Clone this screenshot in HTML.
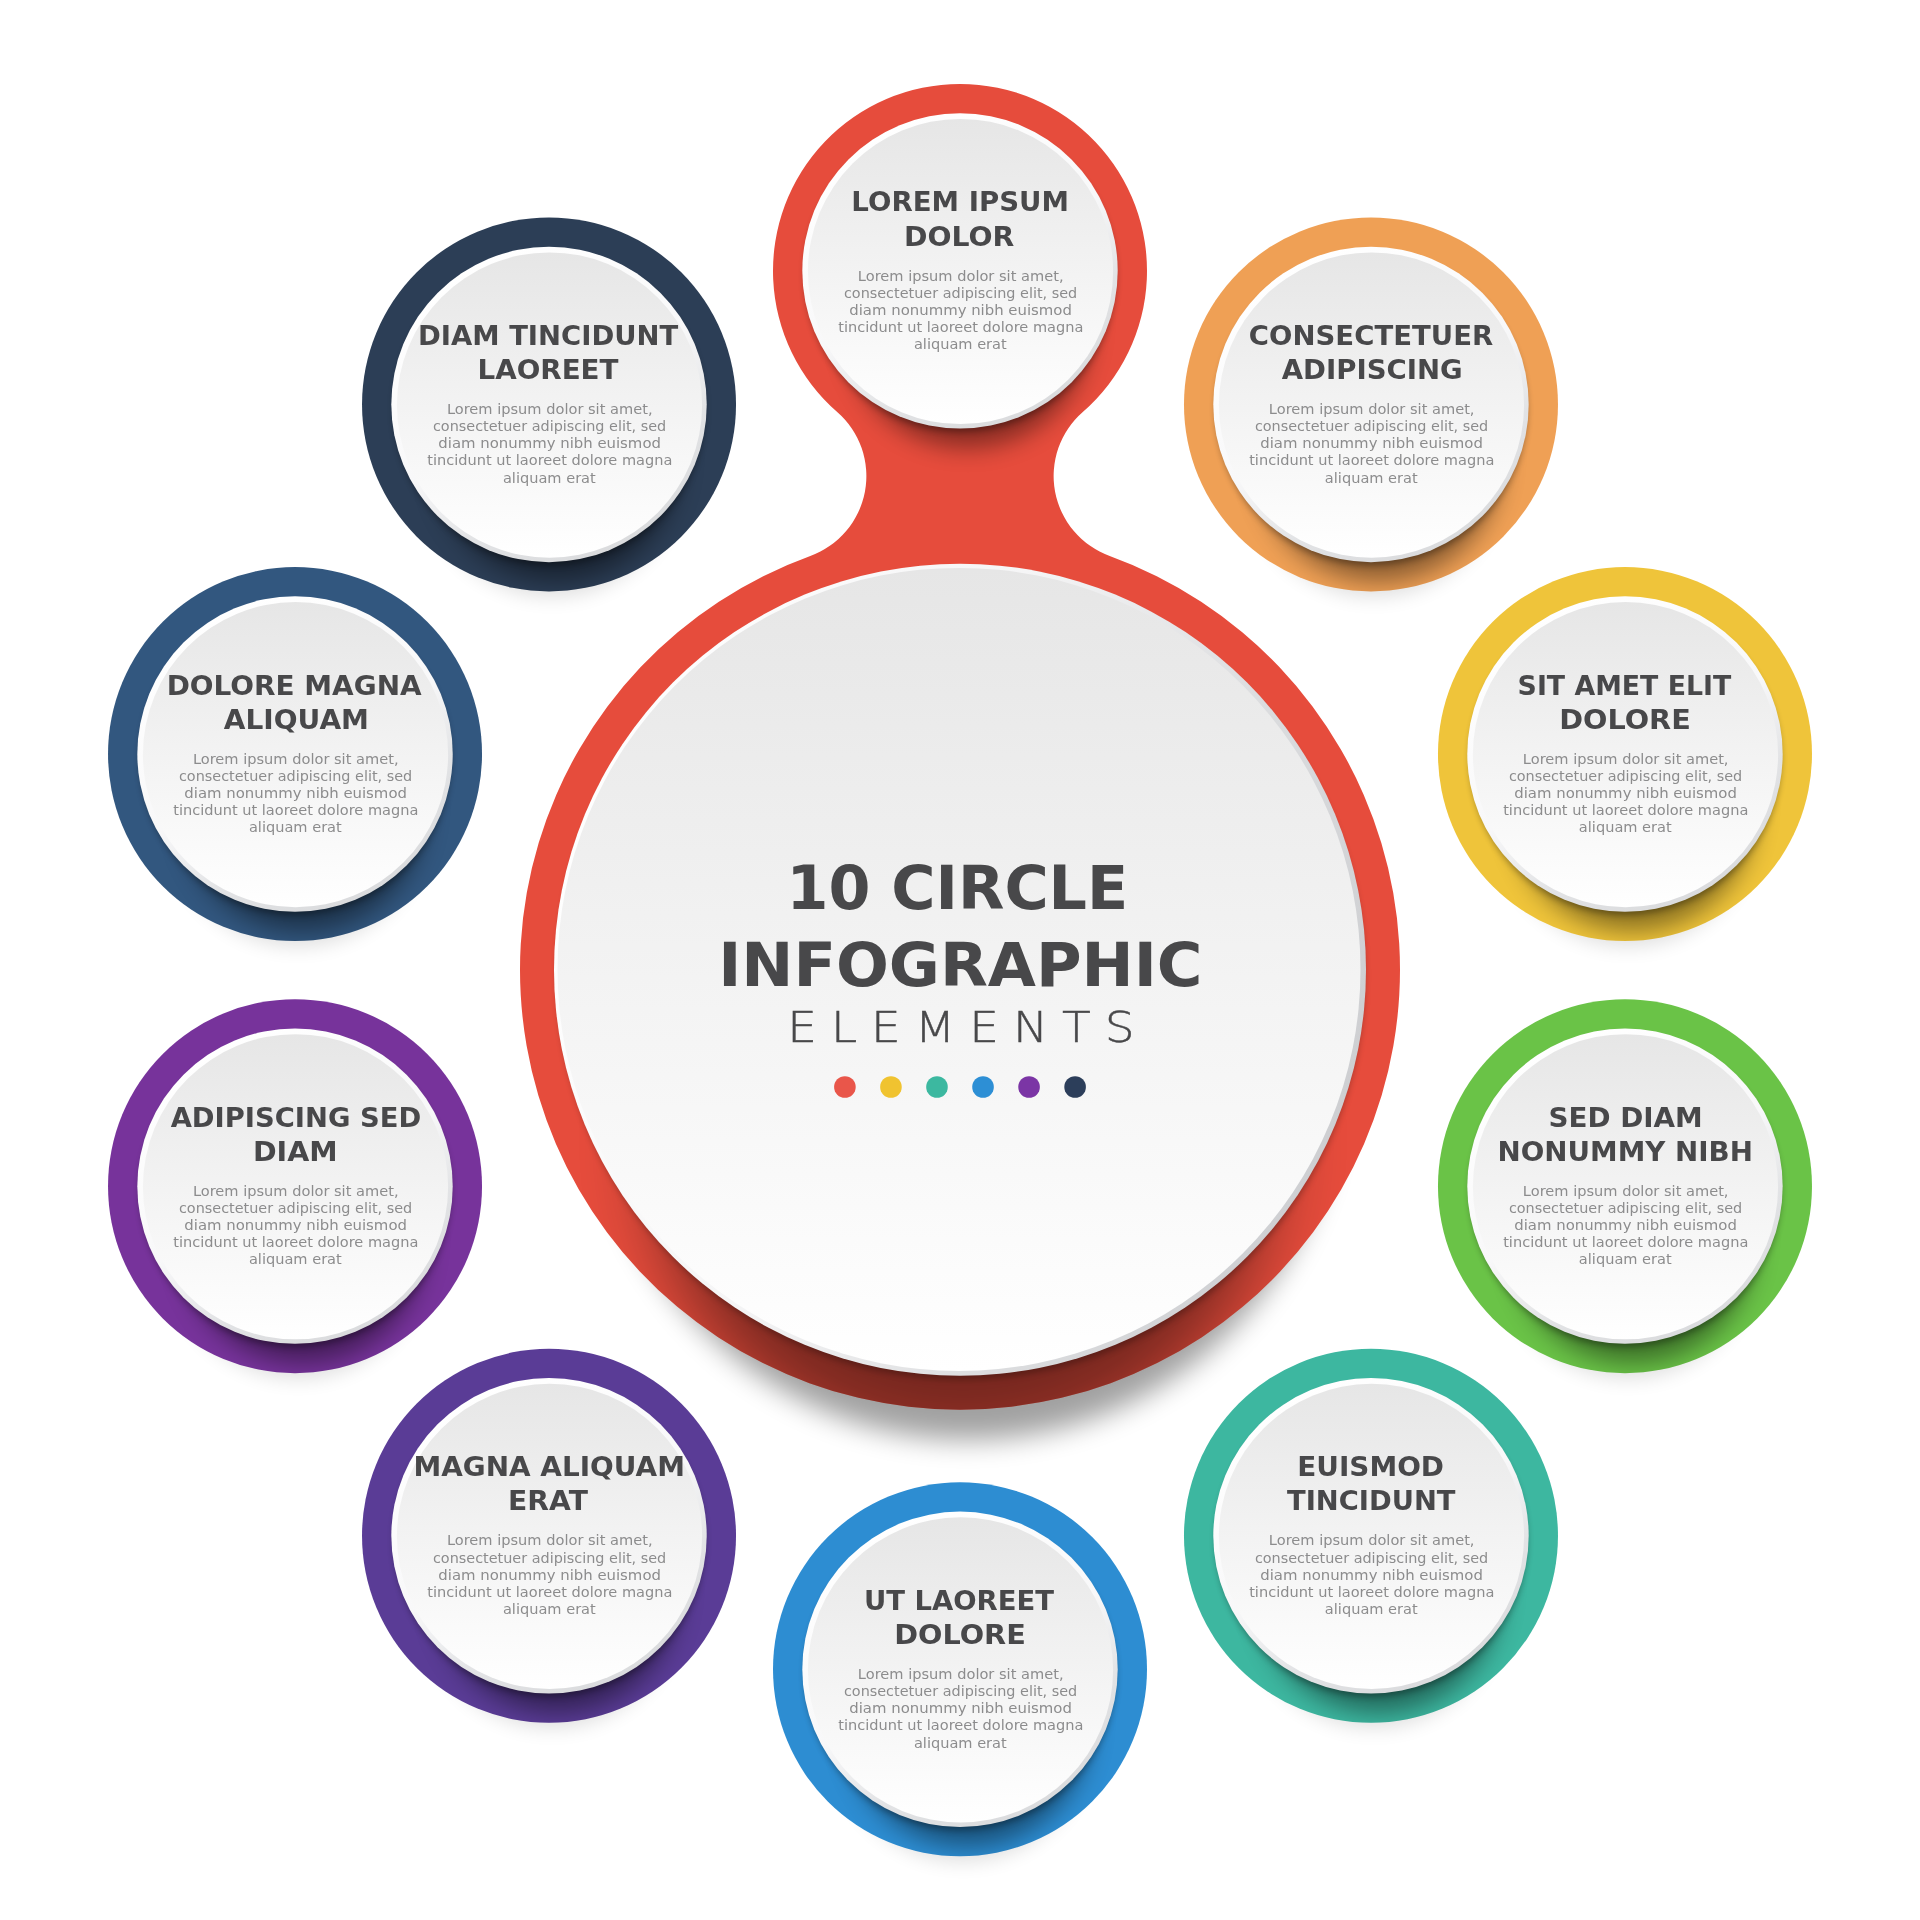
<!DOCTYPE html>
<html lang="en"><head><meta charset="utf-8"><title>10 Circle Infographic Elements</title>
<style>html,body{margin:0;padding:0;background:#fff}svg{display:block}.t{font-family:"DejaVu Sans","Liberation Sans",sans-serif;font-weight:700;font-size:25.9px;fill:#48484a}.b{font-family:"DejaVu Sans","Liberation Sans",sans-serif;font-weight:400;font-size:13.8px;fill:#8c8c8d}.h{font-family:"DejaVu Sans","Liberation Sans",sans-serif;font-weight:700;font-size:61.0px;fill:#48484a}.e{font-family:"DejaVu Sans Light","DejaVu Sans","Liberation Sans",sans-serif;font-weight:200;font-size:43.5px;fill:#48484a;stroke:#48484a;stroke-width:0.45px}</style></head><body>
<svg width="1920" height="1920" viewBox="0 0 1920 1920">
<defs>
<linearGradient id="gd" x1="0" y1="0" x2="0" y2="1"><stop offset="0" stop-color="#e6e6e6"/><stop offset="0.55" stop-color="#f4f4f4"/><stop offset="1" stop-color="#ffffff"/></linearGradient>
<linearGradient id="gb" x1="0.25" y1="0.05" x2="0.75" y2="0.95"><stop offset="0" stop-color="#ffffff"/><stop offset="0.5" stop-color="#f8f8f9"/><stop offset="0.75" stop-color="#e2e3e5"/><stop offset="1" stop-color="#dadbdd"/></linearGradient>
<linearGradient id="gbb" x1="0" y1="0.3" x2="1" y2="0.7"><stop offset="0" stop-color="#ffffff"/><stop offset="0.4" stop-color="#f5f5f6"/><stop offset="0.7" stop-color="#dcdddf"/><stop offset="1" stop-color="#cccdd0"/></linearGradient>
<filter id="bl3" x="-10%" y="-10%" width="120%" height="120%"><feGaussianBlur stdDeviation="3"/></filter>
<filter id="bl8" x="-30%" y="-30%" width="160%" height="160%"><feGaussianBlur stdDeviation="12"/></filter>
<filter id="bl10" x="-30%" y="-30%" width="160%" height="160%"><feGaussianBlur stdDeviation="10"/></filter>
<filter id="bl14" x="-30%" y="-30%" width="160%" height="160%"><feGaussianBlur stdDeviation="14"/></filter>
<filter id="bl35" x="-40%" y="-40%" width="180%" height="180%"><feGaussianBlur stdDeviation="35"/></filter>
<clipPath id="cred"><path d="M837.19 411.92A187 187 0 1 1 1082.81 411.92A85 85 0 0 0 1109.71 555.95A440 440 0 1 1 810.29 555.95A85 85 0 0 0 837.19 411.92Z"/></clipPath>
<clipPath id="c1"><circle cx="1370.98" cy="404.44" r="187"/></clipPath>
<clipPath id="c2"><circle cx="1624.98" cy="754.04" r="187"/></clipPath>
<clipPath id="c3"><circle cx="1624.98" cy="1186.16" r="187"/></clipPath>
<clipPath id="c4"><circle cx="1370.98" cy="1535.76" r="187"/></clipPath>
<clipPath id="c5"><circle cx="960" cy="1669.3" r="187"/></clipPath>
<clipPath id="c6"><circle cx="549.02" cy="1535.76" r="187"/></clipPath>
<clipPath id="c7"><circle cx="295.02" cy="1186.16" r="187"/></clipPath>
<clipPath id="c8"><circle cx="295.02" cy="754.04" r="187"/></clipPath>
<clipPath id="c9"><circle cx="549.02" cy="404.44" r="187"/></clipPath>
</defs>
<rect width="1920" height="1920" fill="#ffffff"/>
<g>
<ellipse cx="1373.98" cy="466.44" rx="128" ry="130" fill="#000" opacity="0.13" filter="url(#bl10)"/>
<circle cx="1370.98" cy="404.44" r="187" fill="#efa055"/>
<g clip-path="url(#c1)"><circle cx="1378.98" cy="458.44" r="122.7" fill="#000" opacity="0.42" filter="url(#bl8)"/><circle cx="1371.48" cy="409.44" r="156.2" fill="#000" opacity="0.3" filter="url(#bl3)"/></g>
<circle cx="1370.98" cy="404.44" r="157.7" fill="url(#gb)"/><circle cx="1371.48" cy="405.04" r="152.6" fill="url(#gd)"/>
<g opacity="0.999"><text class="t" x="1248.85" y="344.99" textLength="244.31" lengthAdjust="spacingAndGlyphs">CONSECTETUER</text>
<text class="t" x="1281.71" y="379.09" textLength="181.02" lengthAdjust="spacingAndGlyphs">ADIPISCING</text>
<text class="b" x="1268.86" y="414.04" textLength="205.65" lengthAdjust="spacingAndGlyphs">Lorem ipsum dolor sit amet,</text>
<text class="b" x="1254.9" y="431.19" textLength="233.32" lengthAdjust="spacingAndGlyphs">consectetuer adipiscing elit, sed</text>
<text class="b" x="1260.27" y="448.34" textLength="222.65" lengthAdjust="spacingAndGlyphs">diam nonummy nibh euismod</text>
<text class="b" x="1249.17" y="465.49" textLength="245.2" lengthAdjust="spacingAndGlyphs">tincidunt ut laoreet dolore magna</text>
<text class="b" x="1324.89" y="482.64" textLength="92.85" lengthAdjust="spacingAndGlyphs">aliquam erat</text></g>
</g>
<g>
<ellipse cx="1627.98" cy="816.04" rx="128" ry="130" fill="#000" opacity="0.13" filter="url(#bl10)"/>
<circle cx="1624.98" cy="754.04" r="187" fill="#efc43a"/>
<g clip-path="url(#c2)"><circle cx="1632.98" cy="808.04" r="122.7" fill="#000" opacity="0.42" filter="url(#bl8)"/><circle cx="1625.48" cy="759.04" r="156.2" fill="#000" opacity="0.3" filter="url(#bl3)"/></g>
<circle cx="1624.98" cy="754.04" r="157.7" fill="url(#gb)"/><circle cx="1625.48" cy="754.64" r="152.6" fill="url(#gd)"/>
<g opacity="0.999"><text class="t" x="1517.62" y="694.59" textLength="213.67" lengthAdjust="spacingAndGlyphs">SIT AMET ELIT</text>
<text class="t" x="1559.21" y="728.69" textLength="131.58" lengthAdjust="spacingAndGlyphs">DOLORE</text>
<text class="b" x="1522.86" y="763.64" textLength="205.65" lengthAdjust="spacingAndGlyphs">Lorem ipsum dolor sit amet,</text>
<text class="b" x="1508.9" y="780.79" textLength="233.32" lengthAdjust="spacingAndGlyphs">consectetuer adipiscing elit, sed</text>
<text class="b" x="1514.27" y="797.94" textLength="222.65" lengthAdjust="spacingAndGlyphs">diam nonummy nibh euismod</text>
<text class="b" x="1503.16" y="815.09" textLength="245.2" lengthAdjust="spacingAndGlyphs">tincidunt ut laoreet dolore magna</text>
<text class="b" x="1578.89" y="832.24" textLength="92.85" lengthAdjust="spacingAndGlyphs">aliquam erat</text></g>
</g>
<g>
<ellipse cx="1627.98" cy="1248.16" rx="128" ry="130" fill="#000" opacity="0.13" filter="url(#bl10)"/>
<circle cx="1624.98" cy="1186.16" r="187" fill="#6ac347"/>
<g clip-path="url(#c3)"><circle cx="1632.98" cy="1240.16" r="122.7" fill="#000" opacity="0.42" filter="url(#bl8)"/><circle cx="1625.48" cy="1191.16" r="156.2" fill="#000" opacity="0.3" filter="url(#bl3)"/></g>
<circle cx="1624.98" cy="1186.16" r="157.7" fill="url(#gb)"/><circle cx="1625.48" cy="1186.76" r="152.6" fill="url(#gd)"/>
<g opacity="0.999"><text class="t" x="1548.4" y="1126.71" textLength="154.36" lengthAdjust="spacingAndGlyphs">SED DIAM</text>
<text class="t" x="1497.6" y="1160.81" textLength="255.29" lengthAdjust="spacingAndGlyphs">NONUMMY NIBH</text>
<text class="b" x="1522.86" y="1195.76" textLength="205.65" lengthAdjust="spacingAndGlyphs">Lorem ipsum dolor sit amet,</text>
<text class="b" x="1508.9" y="1212.91" textLength="233.32" lengthAdjust="spacingAndGlyphs">consectetuer adipiscing elit, sed</text>
<text class="b" x="1514.27" y="1230.06" textLength="222.65" lengthAdjust="spacingAndGlyphs">diam nonummy nibh euismod</text>
<text class="b" x="1503.16" y="1247.21" textLength="245.2" lengthAdjust="spacingAndGlyphs">tincidunt ut laoreet dolore magna</text>
<text class="b" x="1578.89" y="1264.36" textLength="92.85" lengthAdjust="spacingAndGlyphs">aliquam erat</text></g>
</g>
<g>
<ellipse cx="1373.98" cy="1597.76" rx="128" ry="130" fill="#000" opacity="0.13" filter="url(#bl10)"/>
<circle cx="1370.98" cy="1535.76" r="187" fill="#3db7a0"/>
<g clip-path="url(#c4)"><circle cx="1378.98" cy="1589.76" r="122.7" fill="#000" opacity="0.42" filter="url(#bl8)"/><circle cx="1371.48" cy="1540.76" r="156.2" fill="#000" opacity="0.3" filter="url(#bl3)"/></g>
<circle cx="1370.98" cy="1535.76" r="157.7" fill="url(#gb)"/><circle cx="1371.48" cy="1536.36" r="152.6" fill="url(#gd)"/>
<g opacity="0.999"><text class="t" x="1297.24" y="1476.31" textLength="146.79" lengthAdjust="spacingAndGlyphs">EUISMOD</text>
<text class="t" x="1287.02" y="1510.41" textLength="168.52" lengthAdjust="spacingAndGlyphs">TINCIDUNT</text>
<text class="b" x="1268.86" y="1545.36" textLength="205.65" lengthAdjust="spacingAndGlyphs">Lorem ipsum dolor sit amet,</text>
<text class="b" x="1254.9" y="1562.51" textLength="233.32" lengthAdjust="spacingAndGlyphs">consectetuer adipiscing elit, sed</text>
<text class="b" x="1260.27" y="1579.66" textLength="222.65" lengthAdjust="spacingAndGlyphs">diam nonummy nibh euismod</text>
<text class="b" x="1249.17" y="1596.81" textLength="245.2" lengthAdjust="spacingAndGlyphs">tincidunt ut laoreet dolore magna</text>
<text class="b" x="1324.89" y="1613.96" textLength="92.85" lengthAdjust="spacingAndGlyphs">aliquam erat</text></g>
</g>
<g>
<ellipse cx="963" cy="1731.3" rx="128" ry="130" fill="#000" opacity="0.13" filter="url(#bl10)"/>
<circle cx="960" cy="1669.3" r="187" fill="#2d8dd2"/>
<g clip-path="url(#c5)"><circle cx="968" cy="1723.3" r="122.7" fill="#000" opacity="0.42" filter="url(#bl8)"/><circle cx="960.5" cy="1674.3" r="156.2" fill="#000" opacity="0.3" filter="url(#bl3)"/></g>
<circle cx="960" cy="1669.3" r="157.7" fill="url(#gb)"/><circle cx="960.5" cy="1669.9" r="152.6" fill="url(#gd)"/>
<g opacity="0.999"><text class="t" x="863.9" y="1609.85" textLength="190.17" lengthAdjust="spacingAndGlyphs">UT LAOREET</text>
<text class="t" x="894.23" y="1643.95" textLength="131.58" lengthAdjust="spacingAndGlyphs">DOLORE</text>
<text class="b" x="857.88" y="1678.9" textLength="205.65" lengthAdjust="spacingAndGlyphs">Lorem ipsum dolor sit amet,</text>
<text class="b" x="843.92" y="1696.05" textLength="233.32" lengthAdjust="spacingAndGlyphs">consectetuer adipiscing elit, sed</text>
<text class="b" x="849.29" y="1713.2" textLength="222.65" lengthAdjust="spacingAndGlyphs">diam nonummy nibh euismod</text>
<text class="b" x="838.19" y="1730.35" textLength="245.2" lengthAdjust="spacingAndGlyphs">tincidunt ut laoreet dolore magna</text>
<text class="b" x="913.91" y="1747.5" textLength="92.85" lengthAdjust="spacingAndGlyphs">aliquam erat</text></g>
</g>
<g>
<ellipse cx="552.02" cy="1597.76" rx="128" ry="130" fill="#000" opacity="0.13" filter="url(#bl10)"/>
<circle cx="549.02" cy="1535.76" r="187" fill="#5a3c96"/>
<g clip-path="url(#c6)"><circle cx="557.02" cy="1589.76" r="122.7" fill="#000" opacity="0.42" filter="url(#bl8)"/><circle cx="549.52" cy="1540.76" r="156.2" fill="#000" opacity="0.3" filter="url(#bl3)"/></g>
<circle cx="549.02" cy="1535.76" r="157.7" fill="url(#gb)"/><circle cx="549.52" cy="1536.36" r="152.6" fill="url(#gd)"/>
<g opacity="0.999"><text class="t" x="413.5" y="1476.31" textLength="271.42" lengthAdjust="spacingAndGlyphs">MAGNA ALIQUAM</text>
<text class="t" x="508.1" y="1510.41" textLength="79.81" lengthAdjust="spacingAndGlyphs">ERAT</text>
<text class="b" x="446.9" y="1545.36" textLength="205.65" lengthAdjust="spacingAndGlyphs">Lorem ipsum dolor sit amet,</text>
<text class="b" x="432.94" y="1562.51" textLength="233.32" lengthAdjust="spacingAndGlyphs">consectetuer adipiscing elit, sed</text>
<text class="b" x="438.31" y="1579.66" textLength="222.65" lengthAdjust="spacingAndGlyphs">diam nonummy nibh euismod</text>
<text class="b" x="427.21" y="1596.81" textLength="245.2" lengthAdjust="spacingAndGlyphs">tincidunt ut laoreet dolore magna</text>
<text class="b" x="502.93" y="1613.96" textLength="92.85" lengthAdjust="spacingAndGlyphs">aliquam erat</text></g>
</g>
<g>
<ellipse cx="298.02" cy="1248.16" rx="128" ry="130" fill="#000" opacity="0.13" filter="url(#bl10)"/>
<circle cx="295.02" cy="1186.16" r="187" fill="#77339b"/>
<g clip-path="url(#c7)"><circle cx="303.02" cy="1240.16" r="122.7" fill="#000" opacity="0.42" filter="url(#bl8)"/><circle cx="295.52" cy="1191.16" r="156.2" fill="#000" opacity="0.3" filter="url(#bl3)"/></g>
<circle cx="295.02" cy="1186.16" r="157.7" fill="url(#gb)"/><circle cx="295.52" cy="1186.76" r="152.6" fill="url(#gd)"/>
<g opacity="0.999"><text class="t" x="170.68" y="1126.71" textLength="250.48" lengthAdjust="spacingAndGlyphs">ADIPISCING SED</text>
<text class="t" x="252.97" y="1160.81" textLength="84.64" lengthAdjust="spacingAndGlyphs">DIAM</text>
<text class="b" x="192.9" y="1195.76" textLength="205.65" lengthAdjust="spacingAndGlyphs">Lorem ipsum dolor sit amet,</text>
<text class="b" x="178.94" y="1212.91" textLength="233.32" lengthAdjust="spacingAndGlyphs">consectetuer adipiscing elit, sed</text>
<text class="b" x="184.31" y="1230.06" textLength="222.65" lengthAdjust="spacingAndGlyphs">diam nonummy nibh euismod</text>
<text class="b" x="173.21" y="1247.21" textLength="245.2" lengthAdjust="spacingAndGlyphs">tincidunt ut laoreet dolore magna</text>
<text class="b" x="248.93" y="1264.36" textLength="92.85" lengthAdjust="spacingAndGlyphs">aliquam erat</text></g>
</g>
<g>
<ellipse cx="298.02" cy="816.04" rx="128" ry="130" fill="#000" opacity="0.13" filter="url(#bl10)"/>
<circle cx="295.02" cy="754.04" r="187" fill="#32577f"/>
<g clip-path="url(#c8)"><circle cx="303.02" cy="808.04" r="122.7" fill="#000" opacity="0.42" filter="url(#bl8)"/><circle cx="295.52" cy="759.04" r="156.2" fill="#000" opacity="0.3" filter="url(#bl3)"/></g>
<circle cx="295.02" cy="754.04" r="157.7" fill="url(#gb)"/><circle cx="295.52" cy="754.64" r="152.6" fill="url(#gd)"/>
<g opacity="0.999"><text class="t" x="166.68" y="694.59" textLength="254.92" lengthAdjust="spacingAndGlyphs">DOLORE MAGNA</text>
<text class="t" x="223.8" y="728.69" textLength="145.2" lengthAdjust="spacingAndGlyphs">ALIQUAM</text>
<text class="b" x="192.9" y="763.64" textLength="205.65" lengthAdjust="spacingAndGlyphs">Lorem ipsum dolor sit amet,</text>
<text class="b" x="178.94" y="780.79" textLength="233.32" lengthAdjust="spacingAndGlyphs">consectetuer adipiscing elit, sed</text>
<text class="b" x="184.31" y="797.94" textLength="222.65" lengthAdjust="spacingAndGlyphs">diam nonummy nibh euismod</text>
<text class="b" x="173.21" y="815.09" textLength="245.2" lengthAdjust="spacingAndGlyphs">tincidunt ut laoreet dolore magna</text>
<text class="b" x="248.93" y="832.24" textLength="92.85" lengthAdjust="spacingAndGlyphs">aliquam erat</text></g>
</g>
<g>
<ellipse cx="552.02" cy="466.44" rx="128" ry="130" fill="#000" opacity="0.13" filter="url(#bl10)"/>
<circle cx="549.02" cy="404.44" r="187" fill="#2c3e56"/>
<g clip-path="url(#c9)"><circle cx="557.02" cy="458.44" r="122.7" fill="#000" opacity="0.42" filter="url(#bl8)"/><circle cx="549.52" cy="409.44" r="156.2" fill="#000" opacity="0.3" filter="url(#bl3)"/></g>
<circle cx="549.02" cy="404.44" r="157.7" fill="url(#gb)"/><circle cx="549.52" cy="405.04" r="152.6" fill="url(#gd)"/>
<g opacity="0.999"><text class="t" x="418.02" y="344.99" textLength="260.17" lengthAdjust="spacingAndGlyphs">DIAM TINCIDUNT</text>
<text class="t" x="477.49" y="379.09" textLength="141.04" lengthAdjust="spacingAndGlyphs">LAOREET</text>
<text class="b" x="446.9" y="414.04" textLength="205.65" lengthAdjust="spacingAndGlyphs">Lorem ipsum dolor sit amet,</text>
<text class="b" x="432.94" y="431.19" textLength="233.32" lengthAdjust="spacingAndGlyphs">consectetuer adipiscing elit, sed</text>
<text class="b" x="438.31" y="448.34" textLength="222.65" lengthAdjust="spacingAndGlyphs">diam nonummy nibh euismod</text>
<text class="b" x="427.21" y="465.49" textLength="245.2" lengthAdjust="spacingAndGlyphs">tincidunt ut laoreet dolore magna</text>
<text class="b" x="502.93" y="482.64" textLength="92.85" lengthAdjust="spacingAndGlyphs">aliquam erat</text></g>
</g>
<g>
<circle cx="968" cy="1069.7" r="370" fill="#000" opacity="0.37" filter="url(#bl14)"/>
<path d="M837.19 411.92A187 187 0 1 1 1082.81 411.92A85 85 0 0 0 1109.71 555.95A440 440 0 1 1 810.29 555.95A85 85 0 0 0 837.19 411.92Z" fill="#e64c3c"/>
<g clip-path="url(#cred)"><circle cx="968" cy="324.9" r="122.7" fill="#000" opacity="0.42" filter="url(#bl8)"/><circle cx="960.5" cy="275.9" r="156.2" fill="#000" opacity="0.3" filter="url(#bl3)"/><circle cx="963" cy="1139.7" r="312" fill="#000" opacity="0.48" filter="url(#bl35)"/><circle cx="961" cy="975.7" r="404" fill="#000" opacity="0.25" filter="url(#bl3)"/></g>
<circle cx="960" cy="270.9" r="157.7" fill="url(#gb)"/><circle cx="960.5" cy="271.5" r="152.6" fill="url(#gd)"/>
<g opacity="0.999"><text class="t" x="851.38" y="211.45" textLength="217.66" lengthAdjust="spacingAndGlyphs">LOREM IPSUM</text>
<text class="t" x="904.07" y="245.55" textLength="110.34" lengthAdjust="spacingAndGlyphs">DOLOR</text>
<text class="b" x="857.88" y="280.5" textLength="205.65" lengthAdjust="spacingAndGlyphs">Lorem ipsum dolor sit amet,</text>
<text class="b" x="843.92" y="297.65" textLength="233.32" lengthAdjust="spacingAndGlyphs">consectetuer adipiscing elit, sed</text>
<text class="b" x="849.29" y="314.8" textLength="222.65" lengthAdjust="spacingAndGlyphs">diam nonummy nibh euismod</text>
<text class="b" x="838.19" y="331.95" textLength="245.2" lengthAdjust="spacingAndGlyphs">tincidunt ut laoreet dolore magna</text>
<text class="b" x="913.91" y="349.1" textLength="92.85" lengthAdjust="spacingAndGlyphs">aliquam erat</text></g>
<circle cx="960" cy="969.7" r="406" fill="url(#gbb)"/><circle cx="959" cy="969.4" r="401.5" fill="url(#gd)"/>
<g opacity="0.999">
<text class="h" x="786.48" y="909.1" textLength="341.73" lengthAdjust="spacingAndGlyphs">10 CIRCLE</text>
<text class="h" x="718.19" y="986.3" textLength="484.29" lengthAdjust="spacingAndGlyphs">INFOGRAPHIC</text>
<text class="e" transform="translate(787.3 1041.8) scale(1.08 1)" x="0" y="0" textLength="321.48" lengthAdjust="spacing">ELEMENTS</text>
</g>
<circle cx="844.9" cy="1087" r="10.8" fill="#e9564a"/>
<circle cx="890.94" cy="1087" r="10.8" fill="#f0c330"/>
<circle cx="936.98" cy="1087" r="10.8" fill="#3cb8a0"/>
<circle cx="983.02" cy="1087" r="10.8" fill="#2d8fd5"/>
<circle cx="1029.06" cy="1087" r="10.8" fill="#7b35a5"/>
<circle cx="1075.1" cy="1087" r="10.8" fill="#2c3e5a"/>
</g>
</svg></body></html>
